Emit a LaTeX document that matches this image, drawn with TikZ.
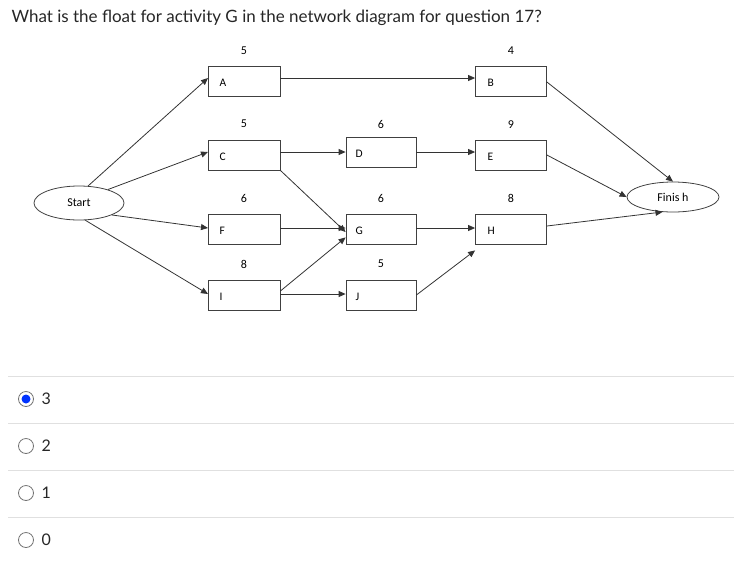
\documentclass[tikz,border=0pt]{standalone}
\usepackage{fontspec}
\setmainfont{Lato}
\newfontfamily\dia{Carlito}
\usetikzlibrary{arrows.meta,shapes.geometric}
\begin{document}
\begin{tikzpicture}[x=1pt,y=-1pt,
  act/.style={draw=black!75,line width=0.8pt,minimum width=72pt,minimum height=30pt,inner sep=0pt},
  lab/.style={anchor=west,font=\dia\fontsize{11.5}{12}\selectfont},
  ev/.style={ellipse,draw=black!75,line width=0.8pt,minimum width=90pt,minimum height=34pt,inner sep=0pt,font=\dia\fontsize{12}{13}\selectfont},
  dur/.style={font=\dia\fontsize{12}{13}\selectfont},
  arr/.style={draw=black!80,line width=0.8pt,-{Triangle[length=7pt,width=6pt]}},
  sep/.style={draw=black!12,line width=0.8pt},
  opt/.style={font=\fontsize{16}{18}\selectfont,anchor=west,text=black!85}]
\useasboundingbox (0,0) rectangle (734,582);
\node[anchor=west,font=\fontsize{17}{20}\selectfont,text=black!85] (title) at (8,18) {What is the float for activity G in the network diagram for question 17?};
\node[act] (A) at (244,81) {}; \node[lab] (lA) at (216,83) {A};
\node[act] (C) at (244,155) {}; \node[lab] (lC) at (216,157) {C};
\node[act] (F) at (244,229) {}; \node[lab] (lF) at (216,231) {F};
\node[act] (I) at (244,295) {}; \node[lab] (lI) at (216,297) {I};
\node[act,minimum width=70pt] (D) at (381,152) {}; \node[lab] (lD) at (352,154) {D};
\node[act,minimum width=70pt] (G) at (381,229) {}; \node[lab] (lG) at (352,231) {G};
\node[act,minimum width=70pt] (J) at (381,295) {}; \node[lab] (lJ) at (352,297) {J};
\node[act,minimum width=71pt] (B) at (511,81) {}; \node[lab] (lB) at (484,83) {B};
\node[act,minimum width=71pt] (E) at (511,155) {}; \node[lab] (lE) at (484,157) {E};
\node[act,minimum width=71pt] (H) at (511,229) {}; \node[lab] (lH) at (484,231) {H};
\node[dur] (dA) at (244,51) {5}; \node[dur] (dC) at (244,124) {5};
\node[dur] (dF) at (244,198) {6}; \node[dur] (dI) at (244,264) {8};
\node[dur] (dD) at (381,124) {6}; \node[dur] (dG) at (381,198) {6};
\node[dur] (dJ) at (381,264) {5}; \node[dur] (dB) at (511,51) {4};
\node[dur] (dE) at (511,125) {9}; \node[dur] (dH) at (511,198) {8};
\node[ev] (S) at (79,203) {Start};
\node[ev,minimum width=92pt,minimum height=30pt] (Fin) at (673,197) {Finis h};
\coordinate (Aw) at (208,78); \coordinate (Cw) at (208,152); \coordinate (Fw) at (208,228); \coordinate (Iw) at (208,294);
\draw[arr] (S.62) -- (Aw);
\draw[arr] (S.25) -- (Cw);
\draw[arr] (S.-20) -- (Fw);
\draw[arr] (S.-70) -- (Iw);
\draw[arr] (A.east |- Aw) -- (B.west |- Aw);
\draw[arr] (C.east |- Cw) -- (D.west |- Cw);
\draw[arr] (C.south east) -- ([yshift=-3pt]G.west);
\draw[arr] (F.east |- Fw) -- (G.west |- Fw);
\draw[arr] ([yshift=4pt]I.east) -- ([yshift=7pt]G.south west);
\draw[arr] (I.east |- Iw) -- (J.west |- Iw);
\draw[arr] (D.east |- Cw) -- (E.west |- Cw);
\draw[arr] (G.east |- Fw) -- (H.west |- Fw);
\draw[arr] (J.east) -- ([yshift=-6pt]H.south west);
\draw[arr] ([yshift=-1pt]B.east) -- (Fin.north);
\draw[arr] (E.east) -- (Fin.west);
\draw[arr] ([yshift=3pt]H.east) -- (Fin.-125);
\foreach \y in {376,423,470,517} \draw[sep] (8,\y) -- (734,\y);
\draw[draw=black!55,line width=0.8pt] (26,399) circle (7.5pt);
\fill[blue!80!cyan] (26,399) circle (4.5pt);
\draw[draw=black!55,line width=0.8pt] (26,446) circle (7.5pt);
\draw[draw=black!55,line width=0.8pt] (26,493) circle (7.5pt);
\draw[draw=black!55,line width=0.8pt] (26,540) circle (7.5pt);
\node[opt] (o3) at (38,399) {3};
\node[opt] (o2) at (38,446) {2};
\node[opt] (o1) at (38,493) {1};
\node[opt] (o0) at (38,540) {0};
\end{tikzpicture}
\end{document}
